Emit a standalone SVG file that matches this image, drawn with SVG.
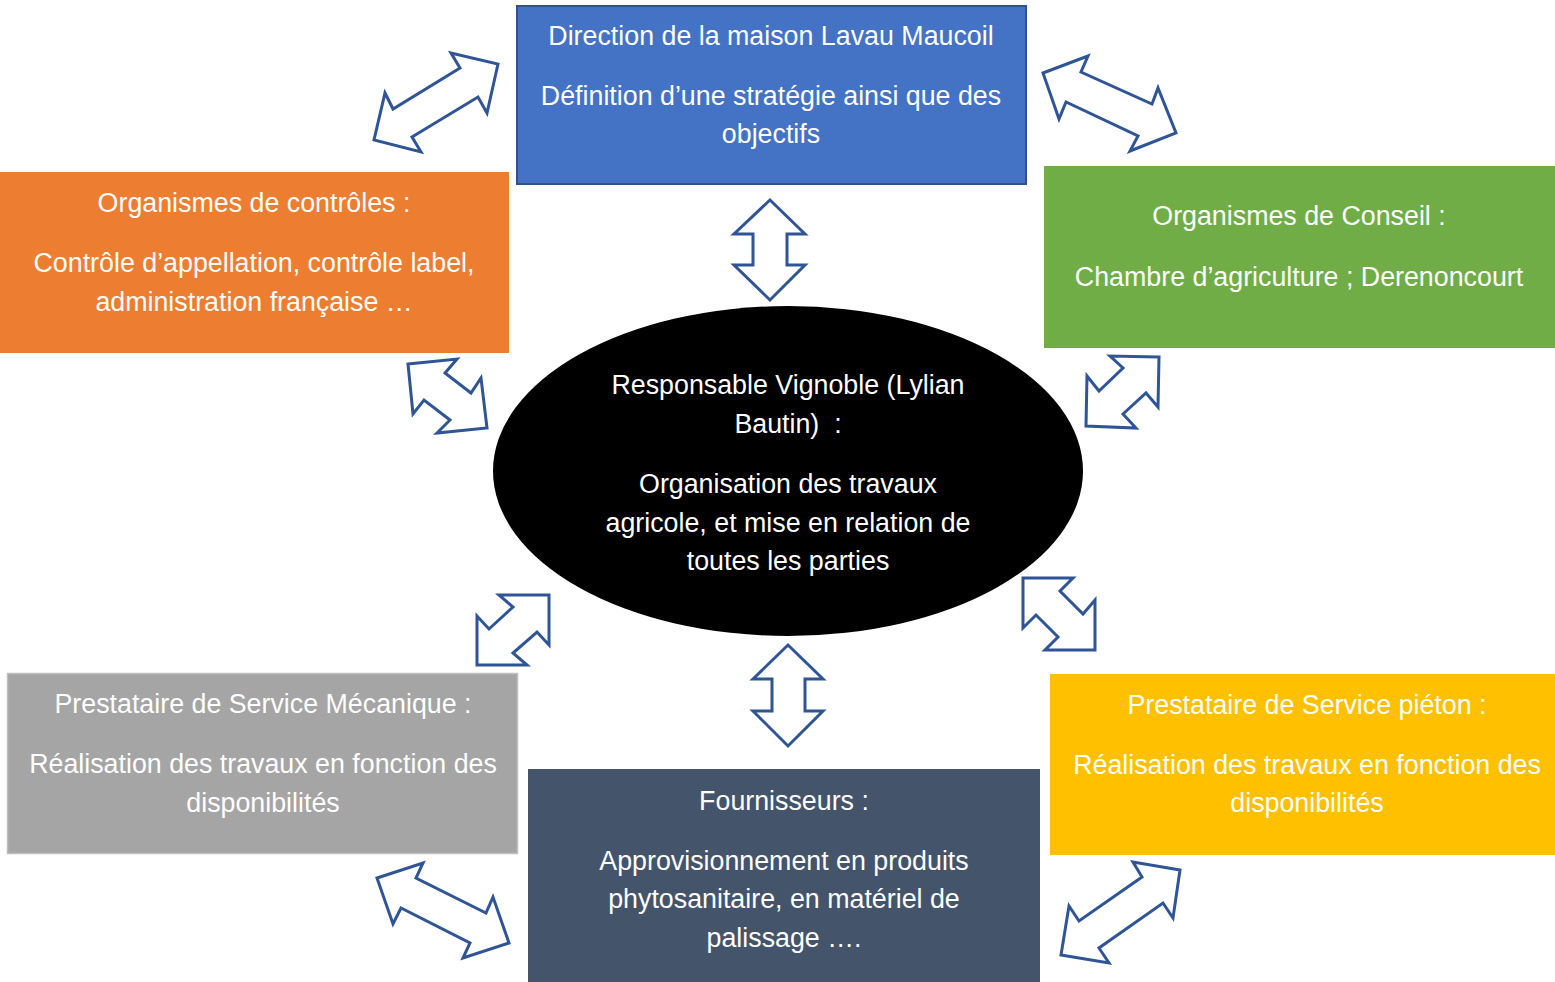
<svg xmlns="http://www.w3.org/2000/svg" width="1555" height="982" viewBox="0 0 1555 982">
<style>
text{font-family:"Liberation Sans",Arial,sans-serif;font-size:26.8px;fill:#fff;text-anchor:middle}
.arr{fill:#fff;stroke:#2F5597;stroke-width:3;stroke-linejoin:miter}
</style>
<rect width="1555" height="982" fill="#fff"/>
<g id="connectors">
<polygon class="arr" points="498,64 487,113 478,97 412,137 421,152 374,140 385,93 393,109 460,68 451,53"/>
<polygon class="arr" points="770,200 805,234 787,234 787,265 805,265 770,300 734,265 753,265 753,234 734,234"/>
<polygon class="arr" points="1043,73 1088,56 1081,72 1152,104 1158,88 1176,133 1130,151 1138,136 1066,102 1059,119"/>
<polygon class="arr" points="1159,357 1110,356 1123,368 1099,391 1087,376 1086,426 1136,428 1123,414 1146,393 1158,407"/>
<polygon class="arr" points="408,364 457,359 445,373 471,393 481,378 487,428 437,433 450,420 424,400 413,414"/>
<polygon class="arr" points="549,595 499,595 513,607 489,629 477,616 477,665 527,665 513,653 537,632 549,645"/>
<polygon class="arr" points="1023,578 1073,578 1060,591 1083,614 1095,600 1095,650 1045,650 1058,637 1036,615 1023,628"/>
<polygon class="arr" points="788,645 823,679 805,679 805,711 823,711 788,746 753,711 772,711 772,679 753,679"/>
<polygon class="arr" points="377,878 423,863 416,878 486,913 493,897 509,943 463,958 470,943 401,908 393,924"/>
<polygon class="arr" points="1180,870 1133,862 1142,877 1079,921 1069,906 1061,955 1109,963 1099,948 1163,903 1173,918"/>
</g>
<g id="direction">
<rect x="517" y="6" width="509" height="178" fill="#4472C4" stroke="#2F528F" stroke-width="2"/>
<text x="771" y="45">Direction de la maison Lavau Maucoil</text>
<text x="771" y="105">Définition d’une stratégie ainsi que des</text>
<text x="771" y="143">objectifs</text>
</g>
<g id="controles">
<rect x="0" y="172" width="509" height="181" fill="#ED7D31"/>
<text x="254" y="212">Organismes de contrôles :</text>
<text x="254" y="272">Contrôle d’appellation, contrôle label,</text>
<text x="254" y="311">administration française …</text>
</g>
<g id="conseil">
<rect x="1044" y="166" width="511" height="182" fill="#70AD47"/>
<text x="1299" y="225">Organismes de Conseil :</text>
<text x="1299" y="286">Chambre d’agriculture ; Derenoncourt</text>
</g>
<g id="responsable">
<ellipse cx="788" cy="471" rx="295" ry="165" fill="#000"/>
<text x="788" y="394">Responsable Vignoble (Lylian</text>
<text x="788" y="433" xml:space="preserve">Bautin)  :</text>
<text x="788" y="493">Organisation des travaux</text>
<text x="788" y="532">agricole, et mise en relation de</text>
<text x="788" y="570">toutes les parties</text>
</g>
<g id="mecanique">
<rect x="7.5" y="673.5" width="510" height="180" fill="#A5A5A5" stroke="#BFBFBF" stroke-width="1.5"/>
<text x="263" y="713">Prestataire de Service Mécanique :</text>
<text x="263" y="773">Réalisation des travaux en fonction des</text>
<text x="263" y="812">disponibilités</text>
</g>
<g id="fournisseurs">
<rect x="528" y="769" width="512" height="213" fill="#44546A"/>
<text x="784" y="810">Fournisseurs :</text>
<text x="784" y="870">Approvisionnement en produits</text>
<text x="784" y="908">phytosanitaire, en matériel de</text>
<text x="784" y="947">palissage ….</text>
</g>
<g id="pieton">
<rect x="1050" y="674" width="505" height="181" fill="#FFC000"/>
<text x="1307" y="714">Prestataire de Service piéton :</text>
<text x="1307" y="774">Réalisation des travaux en fonction des</text>
<text x="1307" y="812">disponibilités</text>
</g>
</svg>
